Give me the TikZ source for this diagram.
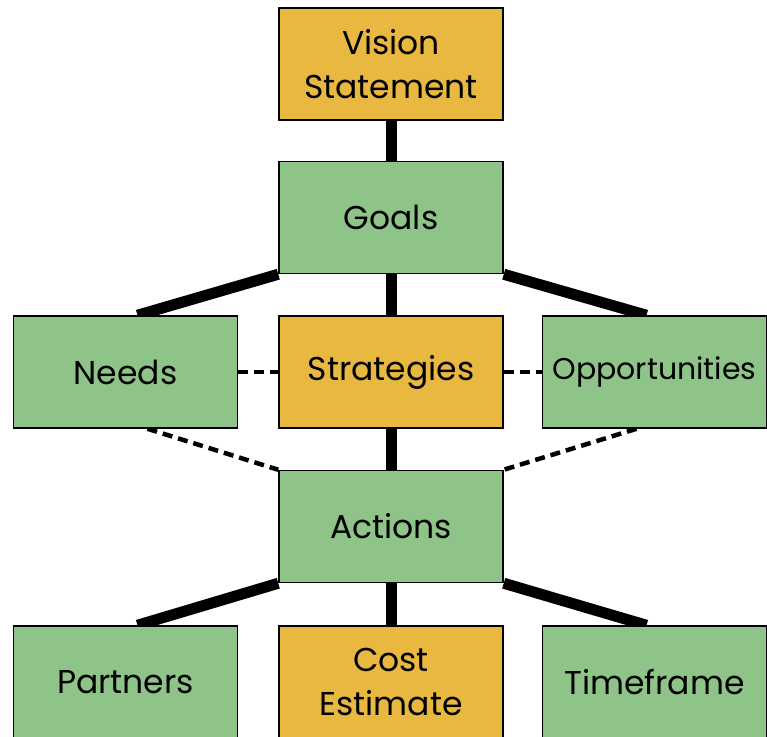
\documentclass[tikz,border=0pt]{standalone}
\usepackage{fontspec}
\setmainfont{Poppins}
\usetikzlibrary{backgrounds}
\definecolor{boxgreen}{RGB}{143,196,137}
\definecolor{boxgold}{RGB}{233,184,64}
\begin{document}
\begin{tikzpicture}[
    x=1pt, y=-1pt,
    block/.style={rectangle, draw, line width=1.5pt, minimum width=224pt, minimum height=112pt, inner sep=0pt, align=center, font=\fontsize{33}{44}\selectfont},
    goal/.style={block, fill=boxgreen},
    plan/.style={block, fill=boxgold},
    link/.style={line width=11pt},
    hint/.style={line width=4.5pt, dash pattern=on 10pt off 6pt}
]
\clip (0,0) rectangle (767,736);

% Top
\node[plan] (vision) at (391,64) {Vision\\Statement};
\node[goal] (goals) at (391,217.5) {Goals};

% Middle row
\node[goal] (needs) at (125.5,372) {Needs};
\node[plan] (strategies) at (391,372) {Strategies};
\node[goal, font=\fontsize{30}{40}\selectfont] (opportunities) at (654.5,372) {Opportunities};

\node[goal] (actions) at (391,526.5) {Actions};

% Bottom row
\node[goal] (partners) at (125.5,682) {Partners};
\node[plan] (cost) at (391,682) {Cost\\Estimate};
\node[goal] (timeframe) at (654.5,682) {Timeframe};

% Links
\begin{pgfonlayer}{background}
\draw[link] (vision) -- (goals);
\draw[link] (goals.south west) -- ([xshift=12pt]needs.north);
\draw[link] (goals) -- (strategies);
\draw[link] (goals.south east) -- ([xshift=-8pt]opportunities.north);
\draw[link] (strategies) -- (actions);
\draw[link] (actions.south west) -- ([xshift=12pt]partners.north);
\draw[link] (actions) -- (cost);
\draw[link] (actions.south east) -- ([xshift=-8pt]timeframe.north);

% Dashed hints
\draw[hint] (needs.east) -- (strategies.west);
\draw[hint] (strategies.east) -- (opportunities.west);
\draw[hint] ([xshift=22pt]needs.south) -- (actions.north west);
\draw[hint] ([xshift=-18pt]opportunities.south) -- (actions.north east);
\end{pgfonlayer}

\end{tikzpicture}
\end{document}
